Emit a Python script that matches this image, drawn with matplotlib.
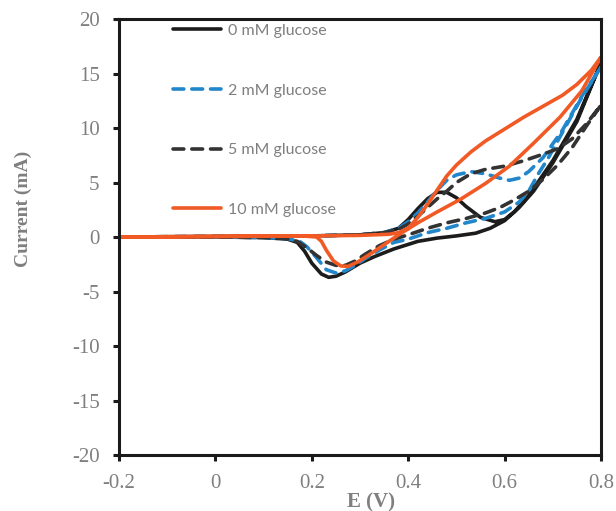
import matplotlib
matplotlib.use("Agg")
import matplotlib.pyplot as plt

plt.rcParams['axes.unicode_minus'] = False

# 0 mM glucose (forward scan then reverse scan)
e_0mM = [-0.2, 0.0, 0.2, 0.3, 0.35, 0.38, 0.40, 0.42, 0.44, 0.46, 0.48, 0.50, 0.52, 0.55, 0.58, 0.60, 0.62, 0.65, 0.70, 0.75, 0.80,
         0.75, 0.70, 0.66, 0.63, 0.60, 0.57, 0.54, 0.50, 0.46, 0.42, 0.37, 0.33, 0.30, 0.27, 0.25, 0.235, 0.22, 0.20, 0.185, 0.17, 0.15, 0.10, 0.0, -0.2]
i_0mM = [0.0, 0.05, 0.1, 0.2, 0.4, 0.8, 1.6, 2.6, 3.5, 4.1, 4.1, 3.6, 2.8, 1.8, 1.4, 1.6, 2.3, 3.8, 7.0, 10.8, 16.0,
         10.6, 6.8, 4.2, 2.7, 1.5, 0.8, 0.35, 0.1, -0.1, -0.4, -1.1, -1.8, -2.4, -3.2, -3.6, -3.7, -3.4, -2.4, -1.3, -0.5, -0.2, -0.05, 0.0, 0.0]

# 2 mM glucose
e_2mM = [-0.2, 0.0, 0.2, 0.3, 0.35, 0.38, 0.40, 0.42, 0.44, 0.46, 0.48, 0.50, 0.53, 0.56, 0.59, 0.61, 0.63, 0.65, 0.68, 0.72, 0.76, 0.80,
         0.76, 0.72, 0.69, 0.67, 0.65, 0.63, 0.60, 0.56, 0.52, 0.48, 0.44, 0.40, 0.37, 0.34, 0.31, 0.29, 0.27, 0.25, 0.23, 0.21, 0.19, 0.175, 0.15, 0.10, 0.0, -0.2]
i_2mM = [0.0, 0.05, 0.1, 0.2, 0.4, 0.8, 1.4, 2.2, 3.2, 4.3, 5.2, 5.7, 6.0, 5.8, 5.4, 5.2, 5.4, 6.0, 7.3, 9.8, 12.9, 15.6,
         12.8, 9.6, 7.2, 5.8, 4.2, 3.2, 2.3, 1.7, 1.3, 0.8, 0.4, -0.2, -0.5, -1.2, -2.0, -2.6, -3.1, -3.3, -3.0, -1.9, -0.9, -0.4, -0.15, -0.05, 0.0, 0.0]

# 5 mM glucose
e_5mM = [-0.2, 0.0, 0.2, 0.3, 0.35, 0.38, 0.40, 0.42, 0.44, 0.46, 0.48, 0.50, 0.53, 0.56, 0.60, 0.64, 0.68, 0.71, 0.74, 0.77, 0.80,
         0.77, 0.74, 0.71, 0.68, 0.65, 0.62, 0.59, 0.56, 0.52, 0.48, 0.44, 0.40, 0.37, 0.34, 0.31, 0.29, 0.27, 0.25, 0.23, 0.21, 0.19, 0.17, 0.14, 0.10, 0.0, -0.2]
i_5mM = [0.0, 0.05, 0.1, 0.2, 0.4, 0.7, 1.2, 1.9, 2.7, 3.5, 4.2, 5.0, 5.8, 6.2, 6.5, 7.0, 7.6, 8.1, 9.0, 10.4, 12.1,
         10.2, 8.2, 6.6, 5.3, 4.2, 3.4, 2.7, 2.2, 1.7, 1.3, 0.8, 0.2, -0.2, -0.8, -1.6, -2.2, -2.6, -2.6, -2.3, -1.7, -1.0, -0.4, -0.1, -0.05, 0.0, 0.0]

# 10 mM glucose
e_10mM = [-0.2, 0.0, 0.2, 0.3, 0.36, 0.38, 0.40, 0.42, 0.44, 0.46, 0.48, 0.50, 0.53, 0.56, 0.60, 0.64, 0.68, 0.72, 0.75, 0.78, 0.80,
          0.76, 0.715, 0.66, 0.61, 0.56, 0.51, 0.46, 0.42, 0.38, 0.35, 0.32, 0.295, 0.275, 0.26, 0.245, 0.23, 0.22, 0.21, 0.18, 0.0, -0.2]
i_10mM = [0.0, 0.05, 0.1, 0.15, 0.25, 0.4, 0.8, 1.8, 3.0, 4.3, 5.6, 6.6, 7.8, 8.8, 9.9, 11.0, 12.0, 13.0, 14.0, 15.3, 16.5,
          13.4, 11.0, 8.6, 6.5, 4.9, 3.5, 2.3, 1.3, 0.2, -0.7, -1.6, -2.3, -2.7, -2.65, -2.2, -1.2, -0.4, 0.0, 0.1, 0.05, 0.0]

labels = ['0 mM glucose', '2 mM glucose', '5 mM glucose', '10 mM glucose']
x_ticks = [-0.2, 0, 0.2, 0.4, 0.6, 0.8]
x_tick_labels = ['-0.2', '0', '0.2', '0.4', '0.6', '0.8']
y_ticks = [-20, -15, -10, -5, 0, 5, 10, 15, 20]

gray = '#7f7f7f'
fig = plt.figure(figsize=(6.16, 5.11), dpi=100)
ax = fig.add_axes([119/616, 56/511, 482/616, 436/511])

lw = 2.6
ax.plot(e_0mM, i_0mM, color='#1c1c1c', lw=lw, solid_joinstyle='round', solid_capstyle='round', label=labels[0])
ax.plot(e_2mM, i_2mM, color='#2286cb', lw=lw, dashes=(3.0, 2.2), dash_capstyle='round', dash_joinstyle='round', label=labels[1])
ax.plot(e_5mM, i_5mM, color='#333333', lw=lw, dashes=(3.0, 2.2), dash_capstyle='round', dash_joinstyle='round', label=labels[2])
ax.plot(e_10mM, i_10mM, color='#f15a24', lw=lw, solid_joinstyle='round', solid_capstyle='round', label=labels[3])

ax.set_xlim(-0.2, 0.8)
ax.set_ylim(-20, 20)
ax.set_xticks(x_ticks)
ax.set_xticklabels(x_tick_labels)
ax.set_yticks(y_ticks)

for s in ax.spines.values():
    s.set_linewidth(2.2)
    s.set_color('#1a1a1a')
ax.tick_params(direction='out', length=4, width=2.2, color='#1a1a1a',
               labelsize=15, labelcolor=gray)
ax.tick_params(axis='x', pad=9.5)
ax.tick_params(axis='y', pad=10)
for t in ax.get_xticklabels() + ax.get_yticklabels():
    t.set_fontfamily('Liberation Serif')

ax.set_xlabel('E (V)', fontsize=15, fontweight='bold', color=gray, family='Liberation Serif')
ax.set_ylabel('Current (mA)', fontsize=14, fontweight='bold', color=gray, family='Liberation Serif')
ax.xaxis.set_label_coords(0.523, -0.086)
ax.yaxis.set_label_coords(-0.18, 0.564)

leg = ax.legend(loc='upper left', bbox_to_anchor=(0.112, 0.989), frameon=False,
                prop={'family': 'Lato', 'size': 11.5}, labelspacing=2.85,
                handlelength=3.0, handletextpad=0.42, borderpad=0, borderaxespad=0)
for t in leg.get_texts():
    t.set_color(gray)

fig.savefig('out.png', dpi=100)
